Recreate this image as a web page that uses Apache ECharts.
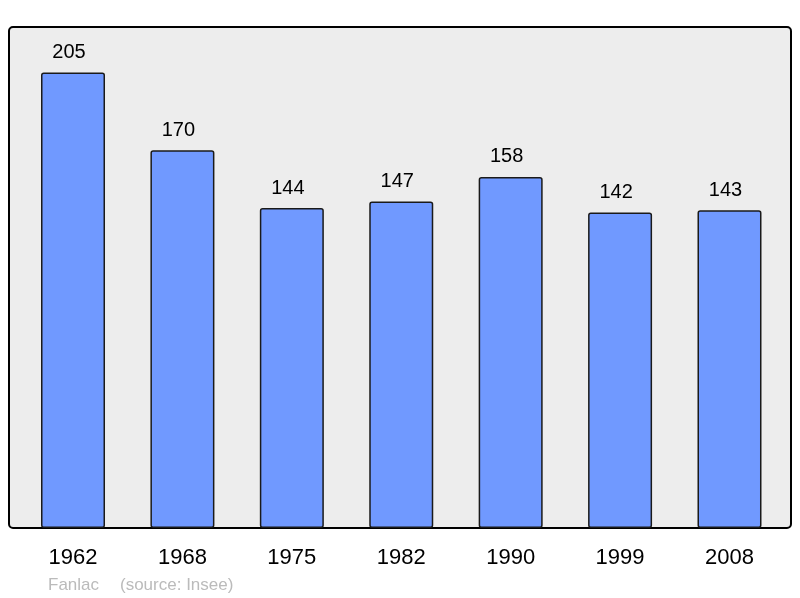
<!DOCTYPE html>
<html><head><meta charset="utf-8">
<script src="https://cdn.jsdelivr.net/npm/echarts@6/dist/echarts.min.js"></script>
<style>html,body{margin:0;padding:0;background:#fff}#c{width:800px;height:598px}</style>
</head><body><div id="c"></div>
<script>
var categories = ['1962','1968','1975','1982','1990','1999','2008'];
var values = [205,170,144,147,158,142,143];
var chart = echarts.init(document.getElementById('c'), null, {renderer:'canvas'});
chart.setOption({
  animation:false,
  textStyle:{fontFamily:'Liberation Sans, Arial, sans-serif'},
  graphic:[
    {type:'rect', z:-10, shape:{x:9,y:27,width:782,height:501,r:4}, style:{fill:'#ededed',stroke:'#000',lineWidth:2}},
    {type:'text', left:48, top:577, style:{text:'Fanlac', fill:'#bbbbbb', font:'17px Liberation Sans, Arial, sans-serif'}},
    {type:'text', left:120, top:577, style:{text:'(source: Insee)', fill:'#bbbbbb', font:'17px Liberation Sans, Arial, sans-serif'}}
  ],
  grid:{left:18.3, right:15.8, top:27, bottom:70},
  xAxis:{type:'category', data:categories, axisLine:{show:false}, axisTick:{show:false},
    axisLabel:{fontSize:22, color:'#000', margin:19}},
  yAxis:{type:'value', min:0, max:225.5, show:false, splitLine:{show:false}},
  series:[{type:'bar', data:values, barWidth:64,
    itemStyle:{color:'#7099ff', borderColor:'#1a1a1a', borderWidth:1.5, borderRadius:2},
    label:{show:true, position:'top', distance:10, offset:[-4,0], fontSize:20, color:'#000'}}]
});
</script></body></html>
